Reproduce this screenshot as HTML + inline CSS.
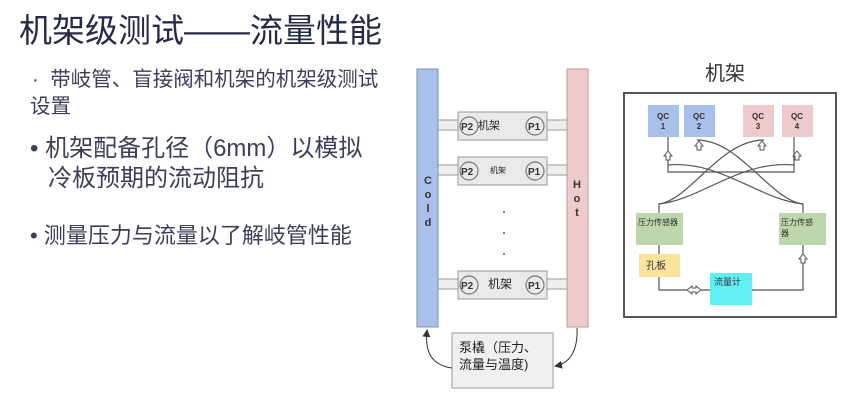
<!DOCTYPE html>
<html><head><meta charset="utf-8"><style>
*{margin:0;padding:0;box-sizing:border-box}
body{width:850px;height:404px;background:#fff;position:relative;overflow:hidden;font-family:"Liberation Sans","Noto Sans CJK SC",sans-serif;color:#2e3350}
.a{position:absolute;white-space:nowrap}
.box{position:absolute}
</style></head><body>
<div class="a" style="left:19px;top:11px;font-size:33px;line-height:40px;color:#262b4a">机架级测试——流量性能</div>
<div class="a" style="left:32px;top:67px;font-size:20.5px;line-height:26px;color:#3a3f5c">·&nbsp; 带岐管、盲接阀和机架的机架级测试</div>
<div class="a" style="left:30px;top:94px;font-size:20.5px;line-height:26px;color:#3a3f5c">设置</div>
<div class="a" style="left:30px;top:134px;font-size:24px;line-height:30px;color:#3a3f5c">• 机架配备孔径（6mm）以模拟</div>
<div class="a" style="left:48px;top:164px;font-size:24px;line-height:30px;color:#3a3f5c">冷板预期的流动阻抗</div>
<div class="a" style="left:30px;top:222px;font-size:22px;line-height:28px;color:#3a3f5c">•  测量压力与流量以了解岐管性能</div>

<svg class="box" style="left:0;top:0" width="850" height="404">
<defs><marker id="ar" markerWidth="8" markerHeight="8" refX="6" refY="4" orient="auto"><path d="M0,0L8,4L0,8z" fill="#333"/></marker></defs>
<g fill="#eeeeee" stroke="#999">
<rect x="432" y="120" width="141" height="10"/>
<rect x="432" y="165" width="141" height="10"/>
<rect x="432" y="279" width="141" height="10"/>
</g>
<rect x="417" y="69" width="21" height="258" fill="#a9c1ea" stroke="#7c8fb5"/>
<rect x="567" y="69" width="21" height="258" fill="#efcaca" stroke="#b99"/>
<g font-size="11" font-weight="bold" fill="#333" text-anchor="middle" font-family="Liberation Sans">
<text x="428" y="184">C</text><text x="428" y="198">o</text><text x="428" y="212">l</text><text x="428" y="226">d</text>
<text x="577" y="188">H</text><text x="577" y="202">o</text><text x="577" y="216">t</text>
</g>
<g fill="#e9e9e9" stroke="#999">
<rect x="458" y="112" width="89" height="28"/>
<rect x="458" y="157" width="89" height="28"/>
<rect x="458" y="271" width="89" height="28"/>
</g>
<g fill="none" stroke="#777" stroke-width="1.2">
<circle cx="469" cy="126" r="9"/><circle cx="535" cy="126" r="9"/>
<circle cx="469" cy="171" r="9"/><circle cx="535" cy="171" r="9"/>
<circle cx="469" cy="285" r="9"/><circle cx="535" cy="285" r="9"/>
</g>
<g font-size="10" font-weight="bold" fill="#333" font-family="Liberation Sans">
<text x="461" y="130">P2</text><text x="528" y="130">P1</text>
<text x="461" y="175">P2</text><text x="528" y="175">P1</text>
<text x="461" y="289">P2</text><text x="528" y="289">P1</text>
</g>
<text x="478" y="129" font-size="11" fill="#222">机架</text>
<text x="490" y="173" font-size="8" fill="#222">机架</text>
<text x="488" y="288" font-size="12" fill="#222">机架</text>
<g fill="#555"><circle cx="504" cy="212" r="1"/><circle cx="504" cy="233" r="1"/><circle cx="504" cy="254" r="1"/></g>
<rect x="452" y="333" width="101" height="55" fill="#f0f0f0" stroke="#999"/>
<text x="459" y="352" font-size="13" fill="#222">泵橇（压力、</text>
<text x="459" y="369" font-size="13" fill="#222">流量与温度)</text>
<path d="M452,368 C430,365 425,350 427,331" fill="none" stroke="#333" marker-end="url(#ar)"/>
<path d="M577,328 C578,350 570,363 556,366" fill="none" stroke="#333" marker-end="url(#ar)"/>

<text x="725" y="80" font-size="20" fill="#333" text-anchor="middle">机架</text>
<rect x="624" y="93" width="212" height="224" fill="#fff" stroke="#555" stroke-width="2"/>
<g fill="none" stroke="#555" stroke-width="1.2">
<path d="M668,137V172H794V137"/>
<path d="M659,244V204C690,200 720,140 764,140"/>
<path d="M659,204C700,200 740,160 794,165"/>
<path d="M803,213V204C770,200 740,140 697,140"/>
<path d="M803,204C760,200 720,160 668,165"/>
<path d="M659,245V290H710"/>
<path d="M752,290H803V245"/>
</g>
<g font-size="8" font-weight="bold" fill="#333" text-anchor="middle" font-family="Liberation Sans">
<rect x="648" y="105" width="31" height="32" fill="#a9c1ea"/><text x="663" y="119">QC</text><text x="663" y="129">1</text>
<rect x="684" y="105" width="31" height="32" fill="#a9c1ea"/><text x="699" y="119">QC</text><text x="699" y="129">2</text>
<rect x="743" y="105" width="31" height="32" fill="#efcaca"/><text x="758" y="119">QC</text><text x="758" y="129">3</text>
<rect x="782" y="105" width="31" height="32" fill="#efcaca"/><text x="797" y="119">QC</text><text x="797" y="129">4</text>
</g>
<rect x="636" y="213" width="47" height="32" fill="#bcd7aa"/>
<rect x="779" y="213" width="47" height="32" fill="#bcd7aa"/>
<text x="638" y="225" font-size="8" fill="#333">压力传感器</text>
<text x="781" y="225" font-size="8" fill="#333">压力传感</text>
<text x="781" y="236" font-size="8" fill="#333">器</text>
<rect x="639" y="254" width="41" height="23" fill="#fbe39a"/>
<text x="646" y="269" font-size="10" fill="#333">孔板</text>
<rect x="710" y="273" width="42" height="32" fill="#5ff0f4"/>
<text x="714" y="285" font-size="9" fill="#333">流量计</text>
<g fill="#fff" stroke="#555">
<path d="M664,156l4,-5l4,5h-2v4h-4v-4z"/>
<path d="M695,146l4,-5l4,5h-2v4h-4v-4z"/>
<path d="M758,146l4,-5l4,5h-2v4h-4v-4z"/>
<path d="M793,156l4,-5l4,5h-2v4h-4v-4z"/>
<path d="M799,259l4,-5l4,5h-2v4h-4v-4z"/>
<path d="M687,290l5,-4v2h4v-2l5,4l-5,4v-2h-4v2z"/>
</g>
</svg>
</body></html>
